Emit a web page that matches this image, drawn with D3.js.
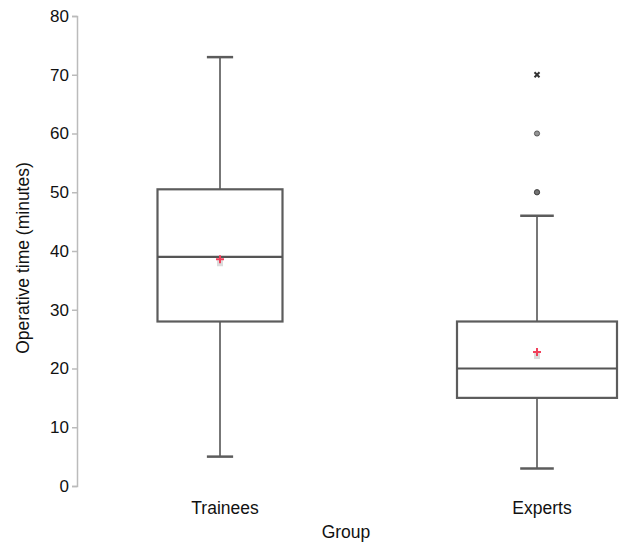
<!DOCTYPE html>
<html>
<head>
    <meta charset="UTF-8">
    <title>Operative time by group</title>
    <script src="https://cdn.jsdelivr.net/npm/d3@7/dist/d3.min.js"></script>
    <style>
        body { margin: 0; background: #fff; }
        text { font-family: "Liberation Sans", Arial, Helvetica, sans-serif; }
    </style>
</head>
<body>
    <svg id="chart" width="619" height="542"></svg>
    <script>
        // data
        var groups = ["Trainees", "Experts"];
        var whiskerLow = [5, 3];
        var q1 = [28, 15];
        var medians = [39, 20];
        var q3 = [50.5, 28];
        var whiskerHigh = [73, 46];
        var means = [38.6, 22.8];
        var outliers = [[], [50, 50, 60, 70]];
        var yTicks = [0, 10, 20, 30, 40, 50, 60, 70, 80];

        var svg = d3.select("#chart");
        var boxWidth = { "Trainees": 125, "Experts": 160 };

        var y = d3.scaleLinear().domain([0, 80]).range([486, 16]);
        var x = d3.scalePoint().domain(groups).range([220, 537]);

        // y axis
        var yAxis = svg.append("g")
            .attr("transform", "translate(77,0)")
            .call(d3.axisLeft(y).tickValues(yTicks).tickSize(5).tickPadding(3));
        yAxis.select(".domain").attr("stroke", "#bbb").attr("stroke-width", 1.5);
        yAxis.selectAll(".tick line").attr("stroke", "#bbb").attr("stroke-width", 1.5);
        yAxis.selectAll(".tick text")
            .attr("fill", "#111")
            .style("font-size", "17px");

        svg.append("text")
            .attr("transform", "translate(29,258) rotate(-90)")
            .attr("text-anchor", "middle")
            .style("font-size", "17.5px")
            .attr("fill", "#111")
            .text("Operative time (minutes)");

        // group labels
        svg.selectAll(".glabel")
            .data(groups)
            .enter().append("text")
            .attr("class", "glabel")
            .attr("x", function (d) { return x(d) + 5; })
            .attr("y", 514)
            .attr("text-anchor", "middle")
            .style("font-size", "17.5px")
            .attr("fill", "#111")
            .text(function (d) { return d; });

        svg.append("text")
            .attr("x", 346)
            .attr("y", 538)
            .attr("text-anchor", "middle")
            .style("font-size", "17.5px")
            .attr("fill", "#111")
            .text("Group");

        // boxes
        groups.forEach(function (g, i) {
            var cx = x(g);
            var w = boxWidth[g];
            var cap = w * 0.21;
            var lineColor = "#5c5c5c";

            // whiskers
            svg.append("line")
                .attr("x1", cx).attr("x2", cx)
                .attr("y1", y(q3[i])).attr("y2", y(whiskerHigh[i]))
                .attr("stroke", "#777").attr("stroke-width", 2);
            svg.append("line")
                .attr("x1", cx).attr("x2", cx)
                .attr("y1", y(q1[i])).attr("y2", y(whiskerLow[i]))
                .attr("stroke", "#777").attr("stroke-width", 2);
            svg.append("line")
                .attr("x1", cx - cap / 2).attr("x2", cx + cap / 2)
                .attr("y1", y(whiskerHigh[i])).attr("y2", y(whiskerHigh[i]))
                .attr("stroke", lineColor).attr("stroke-width", 2.5);
            svg.append("line")
                .attr("x1", cx - cap / 2).attr("x2", cx + cap / 2)
                .attr("y1", y(whiskerLow[i])).attr("y2", y(whiskerLow[i]))
                .attr("stroke", lineColor).attr("stroke-width", 2.5);

            svg.append("rect")
                .attr("x", cx - w / 2)
                .attr("y", y(q3[i]))
                .attr("width", w)
                .attr("height", y(q1[i]) - y(q3[i]))
                .attr("fill", "none")
                .attr("stroke", lineColor)
                .attr("stroke-width", 2.2);
            svg.append("line")
                .attr("x1", cx - w / 2).attr("x2", cx + w / 2)
                .attr("y1", y(medians[i])).attr("y2", y(medians[i]))
                .attr("stroke", "#555").attr("stroke-width", 2.2);

            // mean: red plus with a grey shadow
            var my = y(means[i]);
            svg.append("rect")
                .attr("x", cx - 3).attr("y", my + 1)
                .attr("width", 6).attr("height", 6)
                .attr("fill", "#ccc").attr("opacity", 0.7);
            svg.append("path")
                .attr("d", "M" + (cx - 4) + "," + my + "H" + (cx + 4) + "M" + cx + "," + (my - 4) + "V" + (my + 4))
                .attr("stroke", "#f0405a").attr("stroke-width", 2);

            // outliers: circles for mild, asterisk for extreme (> 3 IQR)
            var iqr = q3[i] - q1[i];
            outliers[i].forEach(function (v) {
                if (v > q3[i] + 3 * iqr) {
                    svg.append("path")
                        .attr("transform", "translate(" + cx + "," + y(v) + ")")
                        .attr("d", d3.symbol().type(d3.symbolX).size(18)())
                        .attr("stroke", "#333").attr("stroke-width", 2);
                } else {
                    svg.append("circle")
                        .attr("cx", cx).attr("cy", y(v))
                        .attr("r", 2.6)
                        .attr("fill", "#666")
                        .attr("fill-opacity", 0.7)
                        .attr("stroke", "#444")
                        .attr("stroke-width", 0.8);
                }
            });
        });
    </script>
</body>
</html>
